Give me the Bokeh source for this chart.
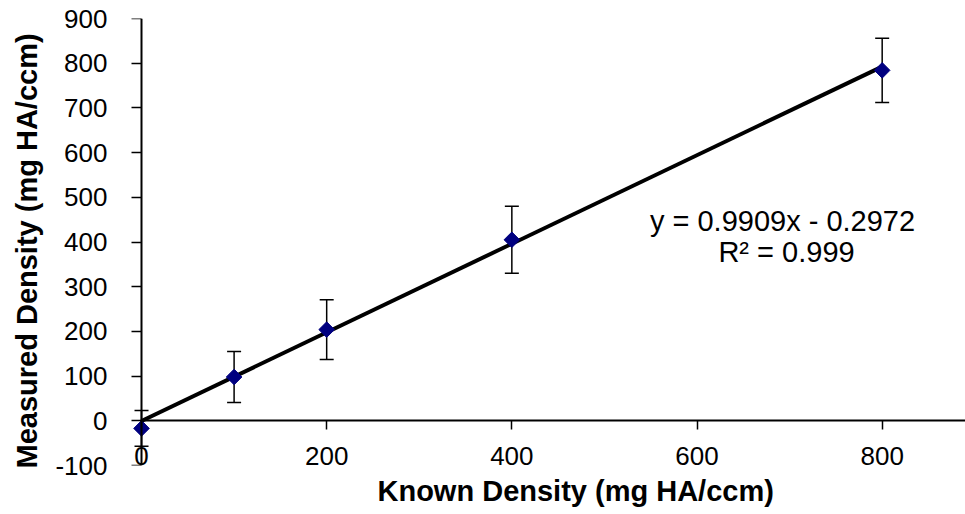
import numpy as np
from bokeh.plotting import figure
from bokeh.models import (Range1d, LinearAxis, SingleIntervalTicker, FixedTicker,
                          Whisker, ColumnDataSource, Label, TeeHead, Title,
                          CustomJSTickFormatter)
from bokeh.embed import file_html
from bokeh.resources import INLINE

# ---- data ----
known = [0, 100, 200, 400, 800]
measured = [-17, 98, 204, 405, 784]
err = [40, 57, 67, 75, 72]
slope = 0.9909
intercept = -0.2972
r2 = 0.999
x_ticks = [0, 200, 400, 600, 800]
eq_text = "y = 0.9909x  - 0.2972"
r2_text = "R\u00b2 = 0.999"
x_title = "Known Density  (mg HA/ccm)"
y_title = "Measured  Density  (mg HA/ccm)"

FONT = "Liberation Sans"
TICK_SIZE = "26px"

p = figure(width=965, height=514, output_backend="svg", toolbar_location=None,
           x_range=Range1d(-11.9, 890), y_range=Range1d(-100, 900),
           x_axis_location=None, y_axis_location="left",
           min_border_left=130, min_border_right=0, min_border_top=18,
           min_border_bottom=49)
p.outline_line_color = None
p.xgrid.visible = False
p.ygrid.visible = False
p.background_fill_color = "white"
p.border_fill_color = "white"

fmt = CustomJSTickFormatter(code="return tick.toString();")

# y tick labels (regular left axis, labels only)
ya = p.yaxis[0]
ya.ticker = SingleIntervalTicker(interval=100)
ya.formatter = fmt
ya.minor_tick_line_color = None
ya.major_tick_line_color = None
ya.axis_line_color = None
ya.major_tick_out = 0
ya.major_tick_in = 0
ya.major_label_text_font = FONT
ya.major_label_text_font_size = TICK_SIZE
ya.major_label_text_color = "black"
ya.major_label_standoff = 19

# y axis line + ticks at x = 0
yl = LinearAxis(fixed_location=0, ticker=SingleIntervalTicker(interval=100),
                formatter=fmt)
yl.minor_tick_line_color = None
yl.major_tick_out = 10
yl.major_tick_in = 0
yl.major_tick_line_color = "black"
yl.major_tick_line_width = 1.5
yl.axis_line_color = "black"
yl.axis_line_width = 2
yl.major_label_text_color = None

# x axis line + ticks crossing at y = 0
xa = LinearAxis(fixed_location=0, ticker=FixedTicker(ticks=x_ticks), formatter=fmt,
                bounds=(0, 890))
xa.minor_tick_line_color = None
xa.major_tick_out = 9
xa.major_tick_in = 0
xa.major_tick_line_color = "black"
xa.major_tick_line_width = 1.5
xa.axis_line_color = "black"
xa.axis_line_width = 2
xa.major_label_text_color = None
p.add_layout(xa, "below")

# x tick labels at the bottom of the plot area
xl = LinearAxis(ticker=FixedTicker(ticks=x_ticks), formatter=fmt)
xl.axis_line_color = None
xl.major_tick_line_color = None
xl.minor_tick_line_color = None
xl.major_tick_out = 0
xl.major_tick_in = 0
xl.major_label_text_font = FONT
xl.major_label_text_font_size = TICK_SIZE
xl.major_label_text_color = "black"
xl.major_label_standoff = -19
p.add_layout(xl, "below")

# axis titles
p.add_layout(Title(text=x_title, align="left", offset=247, standoff=11,
                   text_font=FONT, text_font_size="29px",
                   text_font_style="bold", text_color="black"), "below")
p.add_layout(Title(text=y_title, align="left", offset=-3, standoff=18,
                   vertical_align="middle",
                   text_font=FONT, text_font_size="29px",
                   text_font_style="bold", text_color="black"), "left")
p.add_layout(yl, "left")

# error bars
src = ColumnDataSource(dict(
    x=known, y=measured,
    lower=[m - e for m, e in zip(measured, err)],
    upper=[m + e for m, e in zip(measured, err)],
))
wh = Whisker(base="x", lower="lower", upper="upper", source=src,
             line_color="black", line_width=1.5,
             upper_head=TeeHead(size=14, line_color="black", line_width=1.5),
             lower_head=TeeHead(size=14, line_color="black", line_width=1.5))
p.add_layout(wh)

# trendline
tx = np.array([known[0], known[-1]], dtype=float)
ty = slope * tx + intercept
p.line(tx, ty, line_color="black", line_width=4)

# markers
p.scatter("x", "y", source=src, marker="square", angle=np.pi / 4, size=11,
          fill_color="#000080", line_color="#000080")

# equation text
p.add_layout(Label(x=696.7, y=448, text=eq_text, text_align="center",
                   text_baseline="middle", text_font=FONT,
                   text_font_size="29px", text_color="black"))
p.add_layout(Label(x=696.7, y=377, text=r2_text, text_align="center",
                   text_baseline="middle", text_font=FONT,
                   text_font_size="29px", text_color="black"))

open("out.html", "w").write(file_html(p, INLINE))
